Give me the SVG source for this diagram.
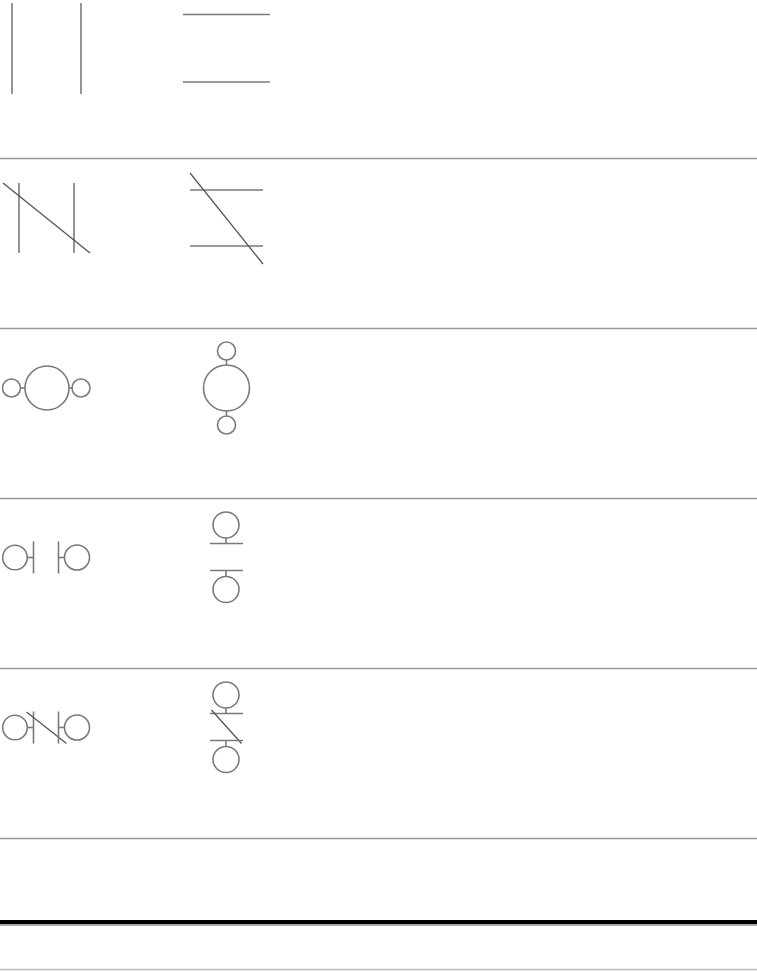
<svg xmlns="http://www.w3.org/2000/svg" width="757" height="971" viewBox="0 0 757 971">
<style>
.s{stroke:#7a7a7a;stroke-width:1.6;fill:none}
.d{stroke:#555;stroke-width:1.3;fill:none}
.sep{stroke:#999;stroke-width:1.5}
</style>
<rect width="757" height="971" fill="#fff"/>
<g id="separators">
<line class="sep" x1="0" y1="158.5" x2="757" y2="158.5"/>
<line class="sep" x1="0" y1="328.5" x2="757" y2="328.5"/>
<line class="sep" x1="0" y1="498.5" x2="757" y2="498.5"/>
<line class="sep" x1="0" y1="668.5" x2="757" y2="668.5"/>
<line class="sep" x1="0" y1="838.5" x2="757" y2="838.5"/>
<line x1="0" y1="925" x2="757" y2="925" stroke="#aaa" stroke-width="2"/>
<line x1="0" y1="922" x2="757" y2="922" stroke="#000" stroke-width="4"/>
<line x1="0" y1="969.5" x2="757" y2="969.5" stroke="#bbb" stroke-width="1.5"/>
</g>
<g id="row1-left">
<line class="s" x1="12" y1="3" x2="12" y2="94"/>
<line class="s" x1="81" y1="3" x2="81" y2="94"/>
</g>
<g id="row1-right">
<line class="s" x1="183" y1="14.5" x2="270" y2="14.5"/>
<line class="s" x1="183" y1="82" x2="270" y2="82"/>
</g>
<g id="row2-left">
<line class="s" x1="19" y1="183" x2="19" y2="253"/>
<line class="s" x1="74" y1="183" x2="74" y2="253"/>
<line class="d" x1="3" y1="183" x2="90" y2="253"/>
</g>
<g id="row2-right">
<line class="s" x1="190" y1="190" x2="263" y2="190"/>
<line class="s" x1="190" y1="246" x2="263" y2="246"/>
<line class="d" x1="190" y1="173" x2="263" y2="264"/>
</g>
<g id="row3-left">
<circle class="s" cx="47" cy="388" r="22"/>
<circle class="s" cx="11.5" cy="388" r="9"/>
<circle class="s" cx="81" cy="388" r="9"/>
<line class="s" x1="20.5" y1="388" x2="25" y2="388"/>
<line class="s" x1="69" y1="388" x2="72" y2="388"/>
</g>
<g id="row3-right">
<circle class="s" cx="226.5" cy="388" r="23"/>
<circle class="s" cx="226.5" cy="351" r="9"/>
<circle class="s" cx="226.5" cy="425" r="9"/>
<line class="s" x1="226.5" y1="360" x2="226.5" y2="365"/>
<line class="s" x1="226.5" y1="411" x2="226.5" y2="416"/>
</g>
<g id="row4-left">
<circle class="s" cx="15" cy="557.5" r="12.3"/>
<line class="s" x1="27.3" y1="557.5" x2="33.5" y2="557.5"/>
<line class="s" x1="33.5" y1="541.5" x2="33.5" y2="573.5"/>
<line class="s" x1="58.5" y1="541.5" x2="58.5" y2="573.5"/>
<line class="s" x1="58.5" y1="557.5" x2="64.5" y2="557.5"/>
<circle class="s" cx="77" cy="557.5" r="12.5"/>
</g>
<g id="row4-right">
<circle class="s" cx="226" cy="525" r="13"/>
<line class="s" x1="226" y1="538" x2="226" y2="543.5"/>
<line class="s" x1="210" y1="543.5" x2="243" y2="543.5"/>
<line class="s" x1="210" y1="570.5" x2="243" y2="570.5"/>
<line class="s" x1="226" y1="570.5" x2="226" y2="576.5"/>
<circle class="s" cx="226" cy="589.5" r="13"/>
</g>
<g id="row5-left">
<circle class="s" cx="15" cy="727.5" r="12.3"/>
<line class="s" x1="27.3" y1="727.5" x2="33.5" y2="727.5"/>
<line class="s" x1="33.5" y1="711.5" x2="33.5" y2="743.5"/>
<line class="d" x1="26.5" y1="712" x2="66.5" y2="743.5"/>
<line class="s" x1="58.5" y1="711.5" x2="58.5" y2="743.5"/>
<line class="s" x1="58.5" y1="727.5" x2="64.5" y2="727.5"/>
<circle class="s" cx="77" cy="727.5" r="12.5"/>
</g>
<g id="row5-right">
<circle class="s" cx="226" cy="695" r="13"/>
<line class="s" x1="226" y1="708" x2="226" y2="713.5"/>
<line class="s" x1="210" y1="713.5" x2="243" y2="713.5"/>
<line class="d" x1="211.5" y1="710" x2="241.5" y2="743.5"/>
<line class="s" x1="210" y1="740.5" x2="243" y2="740.5"/>
<line class="s" x1="226" y1="740.5" x2="226" y2="746.5"/>
<circle class="s" cx="226" cy="759.5" r="13"/>
</g>
</svg>
